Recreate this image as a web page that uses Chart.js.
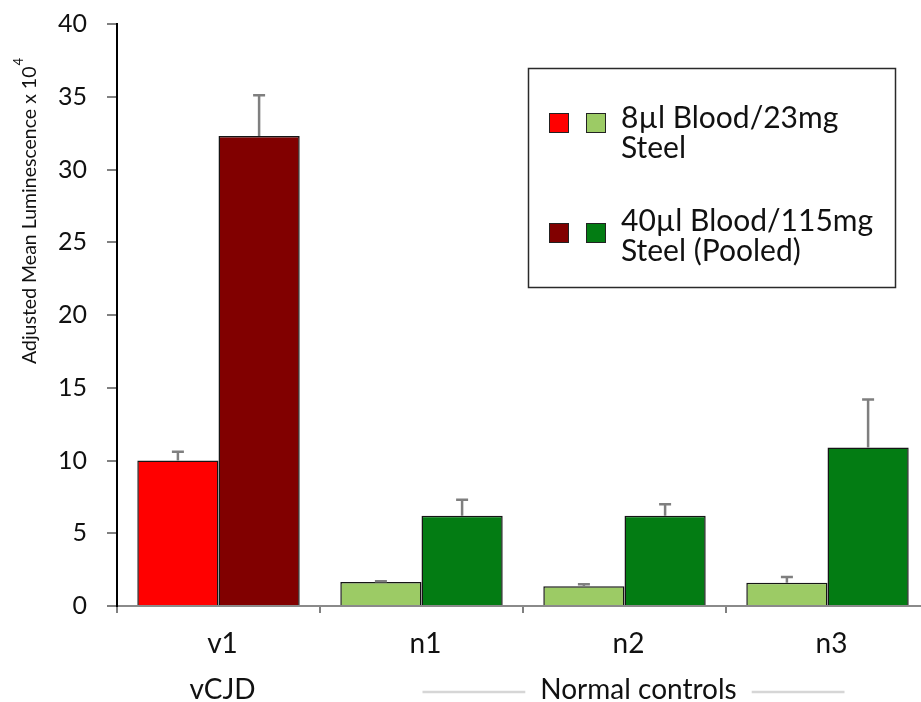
<!DOCTYPE html>
<html>
<head>
<meta charset="utf-8">
<script src="https://cdn.jsdelivr.net/npm/chart.js@4/dist/chart.umd.min.js"></script>
<style>
  html, body { margin: 0; padding: 0; background: #fff; overflow: hidden; }
  #wrap { width: 930px; height: 702px; }
</style>
</head>
<body>
<div id="wrap"><canvas id="c" width="930" height="702"></canvas></div>
<script>
// Samples and sample groups
const categories = ['v1', 'n1', 'n2', 'n3'];
const groupNames = ['vCJD', 'Normal controls'];
const groupSizes = [1, 3];

// Adjusted mean luminescence (x 10^4) and upper error (SD)
const smallVolume = [10.0, 1.65, 1.35, 1.6];
const smallVolumeErr = [0.6, 0.05, 0.15, 0.4];
const pooledVolume = [32.3, 6.2, 6.2, 10.9];
const pooledVolumeErr = [2.8, 1.1, 0.8, 3.3];

// Series names (two lines each) and colours [vCJD, controls]
const seriesNames = [['8µl Blood/23mg', 'Steel'], ['40µl Blood/115mg', 'Steel (Pooled)']];
const smallColors = ['#ff0000', '#9ccb65'];
const pooledColors = ['#810000', '#037c13'];

const yTicks = [0, 5, 10, 15, 20, 25, 30, 35, 40];
const yTitle = 'Adjusted Mean Luminescence x 10';
const yTitleSup = '4';

const FONT = 'Lato, "Open Sans", sans-serif';

function colorsFor(pair) {
  const out = [];
  groupSizes.forEach((n, g) => { for (let i = 0; i < n; i++) out.push(pair[g]); });
  return out;
}

// Upward error bars with caps
const errorBars = {
  id: 'errorBars',
  afterDatasetsDraw(chart) {
    const ctx = chart.ctx;
    const y = chart.scales.y;
    ctx.save();
    ctx.strokeStyle = '#7f7f7f';
    ctx.lineWidth = 2.5;
    chart.data.datasets.forEach((ds, di) => {
      const meta = chart.getDatasetMeta(di);
      meta.data.forEach((bar, i) => {
        const top = y.getPixelForValue(ds.data[i] + ds.errors[i]);
        ctx.beginPath();
        ctx.moveTo(bar.x, bar.y);
        ctx.lineTo(bar.x, top);
        ctx.moveTo(bar.x - 6, top);
        ctx.lineTo(bar.x + 6, top);
        ctx.stroke();
      });
    });
    ctx.restore();
  }
};

// Axis title, group labels and the boxed legend
const decorations = {
  id: 'decorations',
  afterDraw(chart) {
    const ctx = chart.ctx;
    const x = chart.scales.x;
    ctx.save();

    // rotated y-axis title with superscript exponent
    ctx.fillStyle = '#111';
    ctx.font = '19.5px ' + FONT;
    const w1 = ctx.measureText(yTitle).width;
    ctx.font = '13px ' + FONT;
    const w2 = ctx.measureText(yTitleSup).width;
    ctx.save();
    ctx.translate(36, 211);
    ctx.rotate(-Math.PI / 2);
    ctx.textAlign = 'left';
    ctx.textBaseline = 'alphabetic';
    const x0 = -(w1 + w2 + 1) / 2;
    ctx.font = '19.5px ' + FONT;
    ctx.fillText(yTitle, x0, 0);
    ctx.font = '13px ' + FONT;
    ctx.fillText(yTitleSup, x0 + w1 + 1, -13);
    ctx.restore();

    // group labels under the sample labels
    ctx.font = '28px ' + FONT;
    ctx.textAlign = 'center';
    ctx.textBaseline = 'alphabetic';
    let start = 0;
    groupSizes.forEach((n, g) => {
      const first = x.getPixelForValue(start);
      const last = x.getPixelForValue(start + n - 1);
      const name = groupNames[g];
      if (n === 1) {
        ctx.fillText(name, first + 4, 699);
      } else {
        const cx = (first + last) / 2 + 14;
        const tw = ctx.measureText(name).width;
        ctx.fillText(name, cx, 699);
        ctx.strokeStyle = '#d6d6d6';
        ctx.lineWidth = 2.5;
        ctx.beginPath();
        ctx.moveTo(first + 1, 692);
        ctx.lineTo(cx - tw / 2 - 15, 692);
        ctx.moveTo(cx + tw / 2 + 15, 692);
        ctx.lineTo(last + 17, 692);
        ctx.stroke();
      }
      start += n;
    });

    // legend box
    const L = 528.5, T = 68.5, W = 367, H = 219;
    ctx.fillStyle = '#fff';
    ctx.fillRect(L, T, W, H);
    ctx.strokeStyle = '#2a2a2a';
    ctx.lineWidth = 1.5;
    ctx.strokeRect(L, T, W, H);

    const swatches = [[smallColors[0], smallColors[1]], [pooledColors[0], pooledColors[1]]];
    const rowTop = [113, 223];
    const baselines = [[128, 158], [231, 261]];
    ctx.font = '30px ' + FONT;
    ctx.textAlign = 'left';
    seriesNames.forEach((lines, k) => {
      swatches[k].forEach((c, j) => {
        const sx = 549 + j * 37;
        ctx.fillStyle = c;
        ctx.fillRect(sx, rowTop[k], 20, 20);
        ctx.strokeStyle = '#222';
        ctx.lineWidth = 1;
        ctx.strokeRect(sx + 0.5, rowTop[k] + 0.5, 19, 19);
      });
      ctx.fillStyle = '#111';
      lines.forEach((t, li) => ctx.fillText(t, 621, baselines[k][li]));
    });

    ctx.restore();
  }
};

new Chart(document.getElementById('c'), {
  type: 'bar',
  data: {
    labels: categories,
    datasets: [
      {
        label: seriesNames[0].join(' '),
        data: smallVolume,
        errors: smallVolumeErr,
        backgroundColor: colorsFor(smallColors),
        borderColor: '#151515',
        borderWidth: 1.5,
        categoryPercentage: 0.8,
        barPercentage: 1.0
      },
      {
        label: seriesNames[1].join(' '),
        data: pooledVolume,
        errors: pooledVolumeErr,
        backgroundColor: colorsFor(pooledColors),
        borderColor: '#151515',
        borderWidth: 1.5,
        categoryPercentage: 0.8,
        barPercentage: 1.0
      }
    ]
  },
  options: {
    responsive: false,
    animation: false,
    layout: { padding: { top: 24, right: 1, left: 0, bottom: 0 } },
    plugins: {
      legend: { display: false },
      title: { display: false },
      tooltip: { enabled: false }
    },
    scales: {
      x: {
        offset: true,
        grid: {
          offset: true,
          drawOnChartArea: false,
          drawTicks: true,
          tickLength: 7,
          color: '#808080',
          lineWidth: 2
        },
        border: { display: true, color: '#8a8a8a', width: 2 },
        ticks: {
          font: { family: FONT, size: 28 },
          color: '#111',
          padding: 14,
          labelOffset: 4
        },
        afterFit(scale) {
          scale.height = 96;
          scale.paddingLeft = 0;
          scale.paddingRight = 0;
        }
      },
      y: {
        min: 0,
        max: 40,
        afterBuildTicks(scale) { scale.ticks = yTicks.map(v => ({ value: v })); },
        grid: {
          drawOnChartArea: false,
          drawTicks: true,
          tickLength: 10,
          color: '#808080',
          lineWidth: 2
        },
        border: { display: true, color: '#000', width: 2 },
        ticks: {
          font: { family: FONT, size: 25 },
          color: '#111',
          padding: 20
        },
        afterFit(scale) {
          scale.width = 117;
          scale.paddingTop = 0;
          scale.paddingBottom = 0;
        }
      }
    }
  },
  plugins: [errorBars, decorations]
});
</script>
</body>
</html>
